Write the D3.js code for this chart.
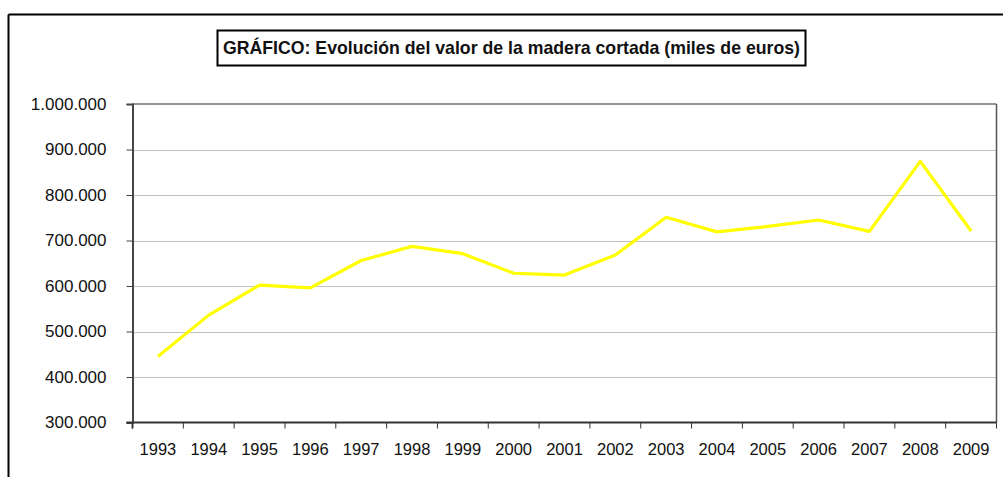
<!DOCTYPE html>
<html>
<head>
<meta charset="utf-8">
<script src="https://cdn.jsdelivr.net/npm/d3@7/dist/d3.min.js"></script>
<style>
  html, body { margin: 0; padding: 0; background: #fff; }
  svg { display: block; }
  text { font-family: "Liberation Sans", Arial, sans-serif; fill: #111; }
</style>
</head>
<body>
<svg id="chart" width="1003" height="477"></svg>
<script>
const titleText = "GRÁFICO: Evolución del valor de la madera cortada (miles de euros)";
const years = ["1993","1994","1995","1996","1997","1998","1999","2000","2001","2002","2003","2004","2005","2006","2007","2008","2009"];
const values = [445000, 536000, 602000, 596000, 656000, 687000, 671000, 628000, 624000, 668000, 751000, 719000, 731000, 745000, 720000, 874000, 721000];
const yTicks = [300000, 400000, 500000, 600000, 700000, 800000, 900000, 1000000];

const svg = d3.select("#chart");
const W = 1003, H = 477;
const plot = { left: 132.5, right: 996.5, top: 104, bottom: 422.5 };

const locale = d3.formatLocale({ decimal: ",", thousands: ".", grouping: [3], currency: ["", "€"] });
const fmt = locale.format(",d");

const x = d3.scaleBand().domain(years).range([plot.left, plot.right]).paddingInner(0).paddingOuter(0);
const y = d3.scaleLinear().domain([300000, 1000000]).range([plot.bottom, plot.top]);

// outer frame (clipped at right/bottom)
svg.append("line").attr("x1", 8.5).attr("x2", W).attr("y1", 14.5).attr("y2", 14.5)
  .attr("stroke", "#000").attr("stroke-width", 2);
svg.append("line").attr("x1", 8.5).attr("x2", 8.5).attr("y1", 14.5).attr("y2", H)
  .attr("stroke", "#000").attr("stroke-width", 2);

// gridlines
svg.append("g").selectAll("line")
  .data(yTicks.filter(v => v !== 300000 && v !== 1000000))
  .join("line")
  .attr("x1", plot.left).attr("x2", plot.right)
  .attr("y1", d => Math.round(y(d)) + 0.5).attr("y2", d => Math.round(y(d)) + 0.5)
  .attr("stroke", "#c0c0c0").attr("stroke-width", 1);

// plot border top & right
svg.append("line").attr("x1", plot.left).attr("x2", plot.right).attr("y1", plot.top).attr("y2", plot.top)
  .attr("stroke", "#707070").attr("stroke-width", 1.5);
svg.append("line").attr("x1", plot.right).attr("x2", plot.right).attr("y1", plot.top).attr("y2", plot.bottom)
  .attr("stroke", "#555").attr("stroke-width", 1.5);

// y axis
const yAxis = d3.axisLeft(y).tickValues(yTicks).tickFormat(fmt).tickSize(6).tickPadding(20);
const gy = svg.append("g").attr("transform", `translate(${plot.left},0)`).call(yAxis);
gy.select(".domain").attr("stroke", "#444").attr("stroke-width", 2);
gy.selectAll(".tick line").attr("stroke", "#444").attr("stroke-width", 1);
gy.selectAll(".tick text").attr("font-size", 17).attr("fill", "#111")
  .style("font-family", "'Liberation Sans', Arial, sans-serif");

// x axis line
svg.append("line").attr("x1", plot.left - 6).attr("x2", plot.right).attr("y1", plot.bottom).attr("y2", plot.bottom)
  .attr("stroke", "#333").attr("stroke-width", 2);
// left axis extends below
svg.append("line").attr("x1", plot.left).attr("x2", plot.left).attr("y1", plot.bottom).attr("y2", plot.bottom + 6)
  .attr("stroke", "#444").attr("stroke-width", 2);

// x tick marks at category boundaries
const bounds = years.map(d => x(d)).concat([x(years[years.length - 1]) + x.bandwidth()]);
svg.append("g").selectAll("line").data(bounds).join("line")
  .attr("x1", d => d).attr("x2", d => d)
  .attr("y1", plot.bottom).attr("y2", plot.bottom + 6)
  .attr("stroke", "#333").attr("stroke-width", 1);

// x labels
svg.append("g").selectAll("text").data(years).join("text")
  .attr("x", d => x(d) + x.bandwidth() / 2)
  .attr("y", 455)
  .attr("text-anchor", "middle")
  .attr("font-size", 16.5)
  .text(d => d);

// line
const line = d3.line()
  .x((d, i) => x(years[i]) + x.bandwidth() / 2)
  .y(d => y(d));
svg.append("path").datum(values)
  .attr("d", line)
  .attr("fill", "none")
  .attr("stroke", "#ffff00")
  .attr("stroke-width", 3.2)
  .attr("stroke-linejoin", "round");

// title box
svg.append("rect").attr("x", 217.5).attr("y", 30.5).attr("width", 588).attr("height", 35)
  .attr("fill", "#fff").attr("stroke", "#000").attr("stroke-width", 2);
svg.append("text")
  .attr("x", 511.5).attr("y", 53.5)
  .attr("text-anchor", "middle")
  .attr("font-size", 17.7)
  .attr("font-weight", "bold")
  .text(titleText);
</script>
</body>
</html>
